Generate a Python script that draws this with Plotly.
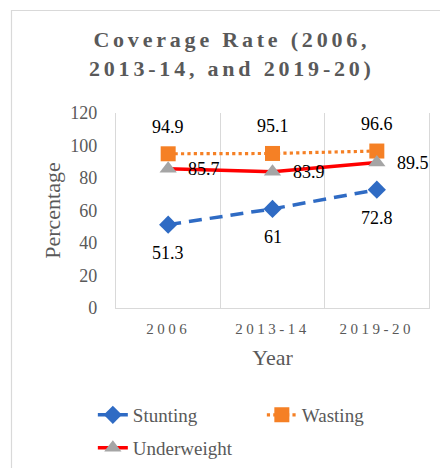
import plotly.graph_objects as go

# Survey rounds and indicator coverage (%)
years = ["2006", "2013-14", "2019-20"]
stunting = [51.3, 61, 72.8]
wasting = [94.9, 95.1, 96.6]
underweight = [85.7, 83.9, 89.5]
y_ticks = [0, 20, 40, 60, 80, 100, 120]

SERIF = "Liberation Serif"
GREY_TXT = "#595959"
GRID = "#d9d9d9"

fig = go.Figure()

fig.add_trace(go.Scatter(
    x=years, y=stunting, name="Stunting", mode="lines+markers",
    line=dict(color="#2f6bc4", width=3.5, dash="13px,8px"),
    marker=dict(symbol="diamond", size=14, color="#2f6bc4"),
    legend="legend",
))
fig.add_trace(go.Scatter(
    x=years, y=wasting, name="Wasting", mode="lines+markers",
    line=dict(color="#f58025", width=3.2, dash="dot"),
    marker=dict(symbol="square", size=15, color="#f58025"),
    legend="legend",
))
fig.add_trace(go.Scatter(
    x=years, y=underweight, name="Underweight", mode="lines+markers",
    line=dict(color="#ff0000", width=3.5),
    marker=dict(symbol="triangle-up", size=15, color="#a5a5a5"),
    legend="legend2",
))

# value labels: stunting below, wasting above, underweight to the right
# (category positions given by index so "2006" is not read as a number)
label_font = dict(family=SERIF, size=18, color="#000000")
for i, yv in enumerate(stunting):
    fig.add_annotation(x=i, y=yv, text=f"{yv:g}", showarrow=False,
                       yshift=-28, font=label_font)
for i, yv in enumerate(wasting):
    fig.add_annotation(x=i, y=yv, text=f"{yv:g}", showarrow=False,
                       yshift=27, font=label_font)
for i, yv in enumerate(underweight):
    fig.add_annotation(x=i, y=yv, text=f"{yv:g}", showarrow=False,
                       xshift=36, font=label_font)

# chart-area frame
fig.add_shape(type="rect", xref="paper", yref="paper",
              x0=-0.3339, x1=1.06, y0=-0.86, y1=1.5256,
              line=dict(color=GRID, width=1.2), fillcolor="rgba(0,0,0,0)",
              layer="below")

legend_font = dict(family=SERIF, size=19, color=GREY_TXT)

fig.update_layout(
    width=440, height=468,
    margin=dict(l=116, r=11, t=113, b=160, autoexpand=False),
    paper_bgcolor="white", plot_bgcolor="white",
    title=dict(
        text="Coverage Rate (2006,<br>2013-14, and 2019-20)",
        font=dict(family=SERIF, size=22, color=GREY_TXT, weight="bold"),
        x=0.527, xref="container", xanchor="center",
        y=1 - 47 / 468, yref="container", yanchor="top",
    ),
    xaxis=dict(
        type="category", range=[-0.5, 2.5],
        showgrid=True, gridcolor=GRID, gridwidth=1.3, tickson="boundaries",
        showline=True, linecolor=GRID, linewidth=1.3,
        ticks="", ticklabelstandoff=7,
        tickfont=dict(family=SERIF, size=15, color=GREY_TXT),
        title=dict(text="Year", standoff=13,
                   font=dict(family=SERIF, size=22, color=GREY_TXT)),
    ),
    yaxis=dict(
        range=[0, 120], tickvals=y_ticks, showgrid=False, zeroline=False,
        showline=True, mirror=True, linecolor=GRID, linewidth=1.3,
        ticks="", ticklabelstandoff=14,
        tickfont=dict(family=SERIF, size=18, color=GREY_TXT),
        title=dict(text="Percentage", standoff=3,
                   font=dict(family=SERIF, size=22, color=GREY_TXT)),
    ),
    legend=dict(
        orientation="h", x=-0.074, xanchor="left",
        y=(308 - 415) / 195, yanchor="middle",
        entrywidth=124, entrywidthmode="pixels",
        font=legend_font, bgcolor="rgba(0,0,0,0)",
    ),
    legend2=dict(
        orientation="h", x=-0.074, xanchor="left",
        y=(308 - 448) / 195, yanchor="middle",
        font=legend_font, bgcolor="rgba(0,0,0,0)",
    ),
    showlegend=True,
)

spacing_js = """
var gd = document.getElementById('{plot_id}');
function spreadLetters() {
  gd.querySelectorAll('.gtitle').forEach(function (t) {
    t.setAttribute('letter-spacing', '3.8px');
  });
  gd.querySelectorAll('.xtick text').forEach(function (t) {
    t.setAttribute('letter-spacing', '3.5px');
  });
}
spreadLetters();
gd.on('plotly_afterplot', spreadLetters);
"""

fig.write_html("out.html", post_script=spacing_js)
